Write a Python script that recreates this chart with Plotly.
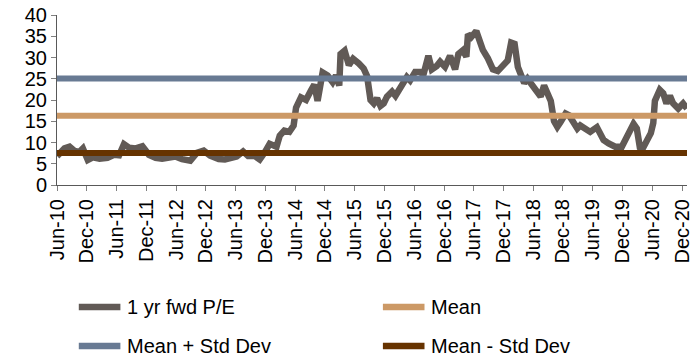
import plotly.graph_objects as go

# 1 yr forward P/E history
pe_dates = [
    "2010-06-01", "2010-07-17", "2010-08-17", "2010-09-17", "2010-10-17", "2010-11-07",
    "2010-12-07", "2011-01-07", "2011-02-17", "2011-04-07", "2011-05-17", "2011-06-17",
    "2011-07-17", "2011-08-17", "2011-09-27", "2011-11-07", "2011-12-17", "2012-01-27",
    "2012-03-07", "2012-04-17", "2012-05-27", "2012-07-07", "2012-08-27", "2012-10-07",
    "2012-11-17", "2012-12-27", "2013-02-17", "2013-03-27", "2013-04-27", "2013-06-07",
    "2013-07-17", "2013-08-17", "2013-09-27", "2013-10-27", "2013-11-27", "2013-12-27",
    "2014-02-07", "2014-02-27", "2014-03-27", "2014-04-27", "2014-05-23", "2014-06-07",
    "2014-07-07", "2014-08-07", "2014-09-07", "2014-09-27", "2014-10-17", "2014-11-17",
    "2014-12-17", "2015-01-17", "2015-02-07", "2015-02-27", "2015-03-07", "2015-04-01",
    "2015-04-27", "2015-05-23", "2015-06-27", "2015-07-27", "2015-08-17", "2015-09-07",
    "2015-09-27", "2015-10-17", "2015-11-07", "2015-11-27", "2015-12-17", "2016-01-17",
    "2016-02-07", "2016-02-27", "2016-03-17", "2016-04-17", "2016-05-07", "2016-06-07",
    "2016-07-07", "2016-07-27", "2016-08-27", "2016-09-17", "2016-10-17", "2016-11-07",
    "2016-12-07", "2017-01-07", "2017-02-07", "2017-02-27", "2017-03-27", "2017-04-17",
    "2017-04-27", "2017-05-17", "2017-06-17", "2017-07-07", "2017-07-27", "2017-08-27",
    "2017-09-27", "2017-10-27", "2017-11-27", "2017-12-27", "2018-01-17", "2018-02-07",
    "2018-02-27", "2018-03-17", "2018-04-07", "2018-04-27", "2018-05-27", "2018-06-27",
    "2018-07-17", "2018-08-07", "2018-08-27", "2018-09-17", "2018-10-07", "2018-10-27",
    "2018-11-17", "2018-12-17", "2019-01-07", "2019-01-27", "2019-02-27", "2019-03-17",
    "2019-04-17", "2019-05-17", "2019-06-27", "2019-07-17", "2019-08-07", "2019-09-07",
    "2019-10-17", "2019-11-27", "2019-12-17", "2020-01-17", "2020-02-07", "2020-02-27",
    "2020-03-17", "2020-04-01", "2020-04-27", "2020-05-23", "2020-06-07", "2020-06-17",
    "2020-07-17", "2020-08-07", "2020-08-27", "2020-09-17", "2020-10-07", "2020-11-07",
    "2020-12-07", "2020-12-31",
]
pe_values = [
    6.8, 8.6, 9.0, 8.0, 7.8, 8.6,
    5.9, 6.5, 6.2, 6.4, 7.1, 7.0,
    9.6, 8.8, 8.6, 9.1, 7.1, 6.4,
    6.2, 6.3, 6.7, 6.1, 5.7, 7.6,
    8.1, 6.9, 6.1, 6.0, 6.2, 6.7,
    7.9, 6.8, 6.8, 6.0, 7.7, 9.7,
    9.0, 11.6, 12.8, 12.5, 14.0, 18.2,
    20.6, 20.0, 22.3, 23.6, 19.8, 26.5,
    25.8, 24.2, 25.8, 23.4, 30.8, 31.6,
    28.2, 29.7, 28.6, 27.4, 25.6, 20.0,
    19.2, 20.4, 18.6, 19.2, 20.8, 22.0,
    21.0, 22.4, 23.5, 25.4, 24.6, 26.6,
    26.6, 25.9, 30.4, 27.2, 28.0, 29.0,
    27.8, 30.4, 27.2, 30.8, 31.7, 30.2,
    35.5, 34.8, 36.2, 33.4, 31.8, 29.8,
    27.2, 26.8, 28.2, 29.3, 33.5, 33.2,
    27.8, 26.2, 24.0, 25.0, 23.2, 21.6,
    20.8, 23.4, 21.6, 19.8, 15.0, 13.7,
    14.9, 16.8, 16.4, 14.9, 13.3, 14.0,
    13.2, 12.5, 13.6, 12.2, 10.6, 9.8,
    9.0, 9.0, 10.6, 12.9, 14.4, 13.3,
    8.8, 8.4, 10.6, 12.2, 14.6, 19.8,
    22.4, 21.6, 19.2, 21.0, 19.2, 18.0,
    19.2, 18.0,
]

# Long-run statistics of the series
pe_mean = 16.3
pe_std = 8.75
band_dates = ["2010-06-01", "2020-12-31"]

tick_dates = [
    "2010-06-01", "2010-12-01", "2011-06-01", "2011-12-01", "2012-06-01", "2012-12-01",
    "2013-06-01", "2013-12-01", "2014-06-01", "2014-12-01", "2015-06-01", "2015-12-01",
    "2016-06-01", "2016-12-01", "2017-06-01", "2017-12-01", "2018-06-01", "2018-12-01",
    "2019-06-01", "2019-12-01", "2020-06-01", "2020-12-01",
]
tick_labels = [
    "Jun-10", "Dec-10", "Jun-11", "Dec-11", "Jun-12", "Dec-12",
    "Jun-13", "Dec-13", "Jun-14", "Dec-14", "Jun-15", "Dec-15",
    "Jun-16", "Dec-16", "Jun-17", "Dec-17", "Jun-18", "Dec-18",
    "Jun-19", "Dec-19", "Jun-20", "Dec-20",
]
y_ticks = [0, 5, 10, 15, 20, 25, 30, 35, 40]

series = [
    ("1 yr fwd P/E", "#615a56"),
    ("Mean + Std Dev", "#687a93"),
    ("Mean", "#cc9966"),
    ("Mean - Std Dev", "#663300"),
]
colors = dict(series)

W, H = 697, 358
ML, MR, MT, MB = 57, 4, 15, 173
FONT = "Liberation Sans, Arial, sans-serif"
FS = 20

fig = go.Figure()
fig.add_trace(go.Scatter(
    x=pe_dates, y=pe_values, mode="lines", name="1 yr fwd P/E",
    line=dict(color=colors["1 yr fwd P/E"], width=6.5),
))
for name, level in [("Mean + Std Dev", pe_mean + pe_std),
                    ("Mean", pe_mean),
                    ("Mean - Std Dev", pe_mean - pe_std)]:
    fig.add_trace(go.Scatter(
        x=band_dates, y=[level, level], mode="lines", name=name,
        line=dict(color=colors[name], width=6),
    ))

# Legend drawn below the plot, two columns by two rows
pw = W - ML - MR
ph = H - MT - MB


def px_x(px):
    return (px - ML) / pw


def px_y(py):
    return (H - MB - py) / ph


legend_items = [
    ("1 yr fwd P/E", 76, 307),
    ("Mean", 383, 307),
    ("Mean + Std Dev", 76, 346),
    ("Mean - Std Dev", 383, 346),
]
for name, lx, ly in legend_items:
    fig.add_shape(type="line", xref="paper", yref="paper",
                  x0=px_x(lx + 3), x1=px_x(lx + 45), y0=px_y(ly), y1=px_y(ly),
                  line=dict(color=colors[name], width=6.5))
    fig.add_annotation(xref="paper", yref="paper", x=px_x(lx + 50), y=px_y(ly),
                       text=name, showarrow=False, xanchor="left", yanchor="middle",
                       font=dict(family=FONT, size=FS, color="#000000"))

fig.update_layout(
    width=W, height=H,
    margin=dict(l=ML, r=MR, t=MT, b=MB, pad=0),
    paper_bgcolor="white", plot_bgcolor="white",
    showlegend=False,
    font=dict(family=FONT, size=FS, color="#000000"),
    xaxis=dict(
        type="date", range=band_dates,
        tickmode="array", tickvals=tick_dates, ticktext=tick_labels,
        tickangle=-90, ticks="outside", ticklen=5, tickcolor="#808080",
        ticklabeloverflow="allow",
        showline=True, linecolor="#595959", linewidth=1,
        showgrid=False, zeroline=False,
        tickfont=dict(family=FONT, size=FS),
    ),
    yaxis=dict(
        range=[0, 40], tickmode="array", tickvals=y_ticks,
        ticks="outside", ticklen=5, tickcolor="#808080",
        showline=True, linecolor="#595959", linewidth=1,
        showgrid=False, zeroline=False,
        tickfont=dict(family=FONT, size=FS),
    ),
)

fig.write_html("out.html")
